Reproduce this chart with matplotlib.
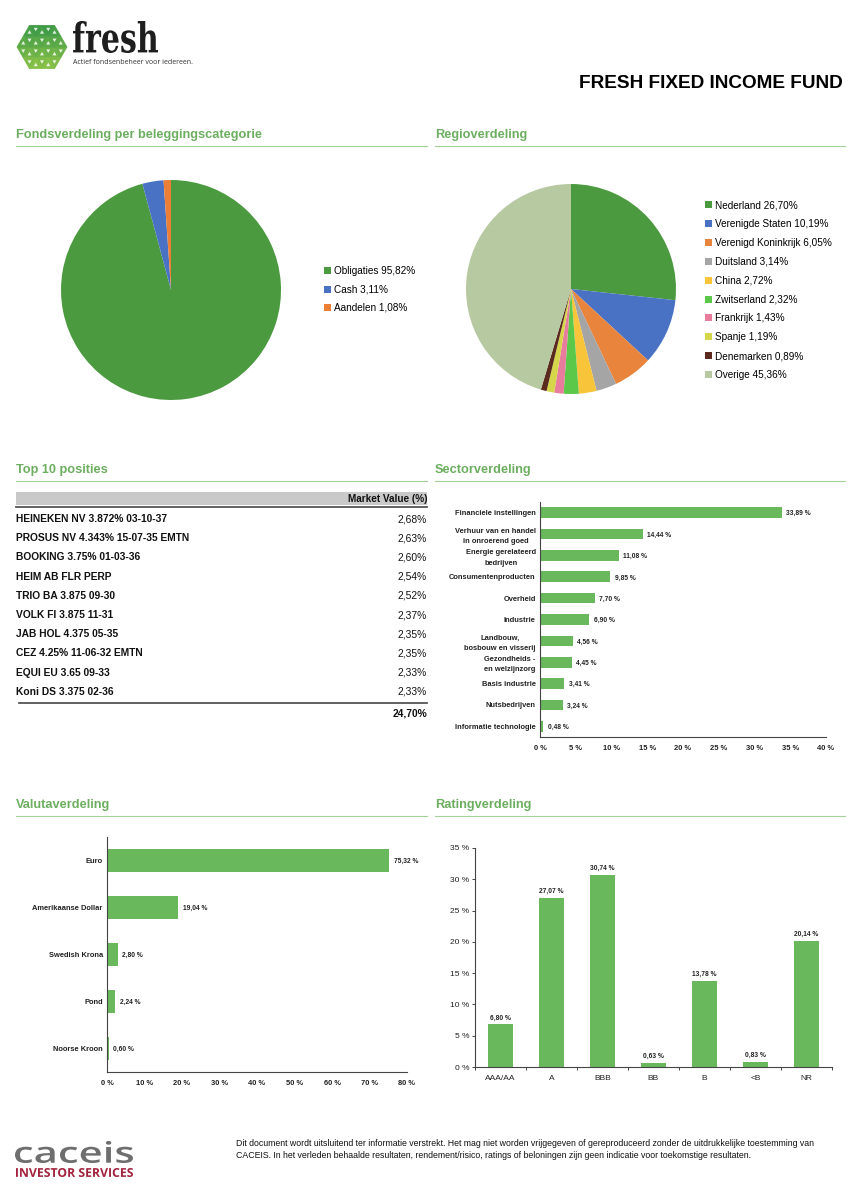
import numpy as np
import matplotlib
matplotlib.use("Agg")
import matplotlib.pyplot as plt
from matplotlib.patches import Rectangle, Polygon, PathPatch
from matplotlib.textpath import TextPath
from matplotlib.font_manager import FontProperties
from matplotlib.transforms import Affine2D
from matplotlib.ticker import FuncFormatter, FixedLocator

plt.rcParams["font.family"] = ["Liberation Sans", "DejaVu Sans"]

W, H = 865, 1200

# --- data -------------------------------------------------------------
asset_labels = ["Obligaties", "Cash", "Aandelen"]
asset_values = [95.82, 3.11, 1.08]
asset_colors = ["#4c9a40", "#4a72c4", "#ec7f35"]

region_labels = ["Nederland", "Verenigde Staten", "Verenigd Koninkrijk", "Duitsland",
                 "China", "Zwitserland", "Frankrijk", "Spanje", "Denemarken", "Overige"]
region_values = [26.70, 10.19, 6.05, 3.14, 2.72, 2.32, 1.43, 1.19, 0.89, 45.36]
region_colors = ["#4c9a40", "#4a72c4", "#e9843d", "#a5a5a5", "#f7c43a",
                 "#5cc84a", "#e87c9c", "#d6d64a", "#5a2a1e", "#b6c9a1"]

top10_names = ["HEINEKEN NV 3.872% 03-10-37", "PROSUS NV 4.343% 15-07-35 EMTN",
               "BOOKING 3.75% 01-03-36", "HEIM AB FLR PERP", "TRIO BA 3.875 09-30",
               "VOLK FI 3.875 11-31", "JAB HOL 4.375 05-35", "CEZ 4.25% 11-06-32 EMTN",
               "EQUI EU 3.65 09-33", "Koni DS 3.375 02-36"]
top10_values = [2.68, 2.63, 2.60, 2.54, 2.52, 2.37, 2.35, 2.35, 2.33, 2.33]
top10_total = 24.70

sector_labels = ["Financiele instellingen", "Verhuur van en handel\nin onroerend goed",
                 "Energie gerelateerd\nbedrijven", "Consumentenproducten", "Overheid",
                 "Industrie", "Landbouw,\nbosbouw en visserij", "Gezondheids -\nen welzijnzorg",
                 "Basis industrie", "Nutsbedrijven", "Informatie technologie"]
sector_values = [33.89, 14.44, 11.08, 9.85, 7.70, 6.90, 4.56, 4.45, 3.41, 3.24, 0.48]

currency_labels = ["Euro", "Amerikaanse Dollar", "Swedish Krona", "Pond", "Noorse Kroon"]
currency_values = [75.32, 19.04, 2.80, 2.24, 0.60]

rating_labels = ["AAA/AA", "A", "BBB", "BB", "B", "<B", "NR"]
rating_values = [6.80, 27.07, 30.74, 0.63, 13.78, 0.83, 20.14]

GREEN_HEAD = "#6cae5f"
GREEN_LINE = "#a3d296"
BAR = "#69b85c"
AXIS = "#444444"


def pct(v, space=True):
    s = f"{v:.2f}".replace(".", ",")
    return s + (" %" if space else "%")


def px_axes(fig, x, y, w, h):
    return fig.add_axes([x / W, 1 - (y + h) / H, w / W, h / H])


def fit_text(ax, s, box, prop, color):
    # scale a text path so it fills box = (x0, y0, x1, y1) in page pixels
    tp = TextPath((0, 0), s, size=1, prop=prop)
    ext = tp.get_extents()
    x0, y0, x1, y1 = box
    sx = (x1 - x0) / ext.width
    sy = (y1 - y0) / ext.height
    tr = Affine2D().translate(-ext.x0, -ext.y0).scale(sx, -sy).translate(x0, y1)
    ax.add_patch(PathPatch(tr.transform_path(tp), color=color, lw=0))


def header(ax, x0, x1, y, text):
    ax.text(x0, y, text, color=GREEN_HEAD, fontsize=9.2, fontweight="bold", va="center")
    ax.plot([x0, x1], [y + 11, y + 11], color=GREEN_LINE, lw=0.8)


def style_axes(ax):
    for s in ("top", "right"):
        ax.spines[s].set_visible(False)
    for s in ("left", "bottom"):
        ax.spines[s].set_color(AXIS)
        ax.spines[s].set_linewidth(0.8)
    ax.set_facecolor("none")


def hbar(ax, labels, values, xmax, step):
    y = np.arange(len(labels))
    ax.barh(y, values, height=0.5, color=BAR)
    ax.set_ylim(len(labels) - 0.5, -0.5)
    ax.set_xlim(0, xmax)
    ax.set_xticks(np.arange(0, xmax + 1, step))
    ax.xaxis.set_major_formatter(FuncFormatter(lambda v, _: f"{v:.0f} %"))
    ax.set_yticks(y)
    ax.set_yticklabels(labels, multialignment="center", linespacing=1.65)
    ax.tick_params(axis="both", length=0, labelsize=5.4, colors="#222222")
    ax.tick_params(axis="x", pad=5.5)
    ax.tick_params(axis="y", pad=3)
    for lab in ax.get_xticklabels() + ax.get_yticklabels():
        lab.set_fontweight("bold")
    style_axes(ax)
    for yi, v in zip(y, values):
        ax.annotate(pct(v), (v, yi), xytext=(3, -0.8), textcoords="offset points",
                    fontsize=4.8, fontweight="bold", va="center", color="#222222")


fig = plt.figure(figsize=(W / 100, H / 100), dpi=100)
page = fig.add_axes([0, 0, 1, 1])
page.set_xlim(0, W)
page.set_ylim(H, 0)
page.axis("off")

# --- logo -------------------------------------------------------------
cx, cy, r = 42, 47, 25
verts = [(cx + r * np.cos(a), cy + r * np.sin(a)) for a in np.radians(np.arange(0, 360, 60))]
n = 2
for k in range(6):
    a, b = verts[k], verts[(k + 1) % 6]

    def pt(u, v):
        return (cx + (a[0] - cx) * u / n + (b[0] - cx) * v / n,
                cy + (a[1] - cy) * u / n + (b[1] - cy) * v / n)

    for i in range(n):
        for j in range(n - i):
            tris = [[pt(i, j), pt(i + 1, j), pt(i, j + 1)]]
            if i + j < n - 1:
                tris.append([pt(i + 1, j), pt(i + 1, j + 1), pt(i, j + 1)])
            for t in tris:
                t = np.array(t)
                cen = t.mean(axis=0)
                f = np.clip((cen[1] - (cy - r)) / (2 * r), 0, 1)
                col = np.array([0.20, 0.58, 0.28]) * (1 - f) + np.array([0.58, 0.78, 0.28]) * f
                page.add_patch(Polygon(t, closed=True, fc=col, ec=col, lw=0.5))
                page.add_patch(Polygon(cen + (t - cen) * 0.32, closed=True, fc="white",
                                       ec="none", alpha=0.85))

fit_text(page, "fresh", (73, 21, 158, 53),
         FontProperties(family="DejaVu Serif", weight="bold"), "#1e1e1e")
page.text(73, 63, "Actief fondsenbeheer voor iedereen.", fontsize=5.0, color="#333333",
          va="center", family=["Open Sans", "DejaVu Sans"])

page.text(843, 84, "FRESH FIXED INCOME FUND", fontsize=13.7, fontweight="bold",
          ha="right", va="center", color="black")

# --- section headers ---------------------------------------------------
header(page, 16, 427, 135, "Fondsverdeling per beleggingscategorie")
header(page, 435, 845, 135, "Regioverdeling")
header(page, 16, 427, 470, "Top 10 posities")
header(page, 435, 845, 470, "Sectorverdeling")
header(page, 16, 427, 805, "Valutaverdeling")
header(page, 435, 845, 805, "Ratingverdeling")

# --- pies --------------------------------------------------------------
ax1 = px_axes(fig, 61, 180, 220, 220)
w1, _ = ax1.pie(asset_values, colors=asset_colors, startangle=90, counterclock=False,
                wedgeprops=dict(linewidth=0))
ax1.set_xlim(-1, 1)
ax1.set_ylim(-1, 1)
ax1.legend(w1, [f"{l} {pct(v, False)}" for l, v in zip(asset_labels, asset_values)],
           loc="upper left", bbox_to_anchor=(324 / W, 1 - 266 / H),
           bbox_transform=fig.transFigure, frameon=False, fontsize=7.2,
           handlelength=0.7, handleheight=0.7, handletextpad=0.3, labelspacing=0.85,
           borderpad=0, borderaxespad=0)

ax2 = px_axes(fig, 466, 184, 210, 210)
w2, _ = ax2.pie(region_values, colors=region_colors, startangle=90, counterclock=False,
                wedgeprops=dict(linewidth=0))
ax2.set_xlim(-1, 1)
ax2.set_ylim(-1, 1)
ax2.legend(w2, [f"{l} {pct(v, False)}" for l, v in zip(region_labels, region_values)],
           loc="upper left", bbox_to_anchor=(705 / W, 1 - 200 / H),
           bbox_transform=fig.transFigure, frameon=False, fontsize=7.2,
           handlelength=0.7, handleheight=0.7, handletextpad=0.3, labelspacing=0.89,
           borderpad=0, borderaxespad=0)

# --- top 10 table ------------------------------------------------------
page.add_patch(Rectangle((16, 492), 411, 13, fc="#c9c9c9", ec="none"))
page.plot([16, 427], [507, 507], color="#555555", lw=1.3)
page.text(427, 498.5, "Market Value (%)", fontsize=7.2, fontweight="bold", ha="right",
          va="center", color="#111111")
for i, (name, val) in enumerate(zip(top10_names, top10_values)):
    yy = 519 + i * 19.2
    page.text(16, yy, name, fontsize=7.4, fontweight="bold", va="center", color="#111111")
    page.text(427, yy, pct(val, False), fontsize=7.4, va="center", ha="right", color="#111111")
page.plot([19, 427], [703, 703], color="#555555", lw=1.3)
page.text(427, 713, pct(top10_total, False), fontsize=7.4, fontweight="bold", ha="right",
          va="center", color="#111111")

# --- sector ------------------------------------------------------------
ax3 = px_axes(fig, 540, 502, 286, 235)
hbar(ax3, sector_labels, sector_values, 40, 5)

# --- currency ----------------------------------------------------------
ax4 = px_axes(fig, 107, 837, 300, 235)
hbar(ax4, currency_labels, currency_values, 80, 10)

# --- rating ------------------------------------------------------------
ax5 = px_axes(fig, 475, 848, 357, 219)
x = np.arange(len(rating_labels))
ax5.bar(x, rating_values, width=0.5, color=BAR)
ax5.set_xlim(-0.5, len(rating_labels) - 0.5)
ax5.set_ylim(0, 35)
ax5.set_yticks(np.arange(0, 36, 5))
ax5.yaxis.set_major_formatter(FuncFormatter(lambda v, _: f"{v:.0f} %"))
ax5.set_xticks(x)
ax5.set_xticklabels(rating_labels)
ax5.xaxis.set_minor_locator(FixedLocator(np.arange(-0.5, len(rating_labels), 1.0)))
ax5.tick_params(axis="x", which="major", length=0, pad=6, labelsize=6, colors="#222222")
ax5.tick_params(axis="x", which="minor", length=2.5, width=0.7, color=AXIS)
ax5.tick_params(axis="y", length=2.5, width=0.7, pad=1.5, labelsize=6, colors=AXIS,
                labelcolor="#222222")
style_axes(ax5)
for xi, v in zip(x, rating_values):
    ax5.annotate(pct(v), (xi, v), xytext=(0, 2), textcoords="offset points",
                 fontsize=4.8, fontweight="bold", ha="center", va="bottom", color="#222222")

# --- footer ------------------------------------------------------------
fit_text(page, "caceis", (15, 1141, 133, 1163),
         FontProperties(family="Open Sans", weight="semibold"), "#6e6e6e")
fit_text(page, "INVESTOR SERVICES", (16, 1168, 133, 1177),
         FontProperties(family="Open Sans", weight="bold"), "#a2213b")
page.text(236, 1143, "Dit document wordt uitsluitend ter informatie verstrekt. Het mag niet worden "
          "vrijgegeven of gereproduceerd zonder de uitdrukkelijke toestemming van",
          fontsize=6.35, va="center", color="#111111")
page.text(236, 1155, "CACEIS. In het verleden behaalde resultaten, rendement/risico, ratings of "
          "beloningen zijn geen indicatie voor toekomstige resultaten.",
          fontsize=6.35, va="center", color="#111111")

fig.savefig("out.png", dpi=100)
